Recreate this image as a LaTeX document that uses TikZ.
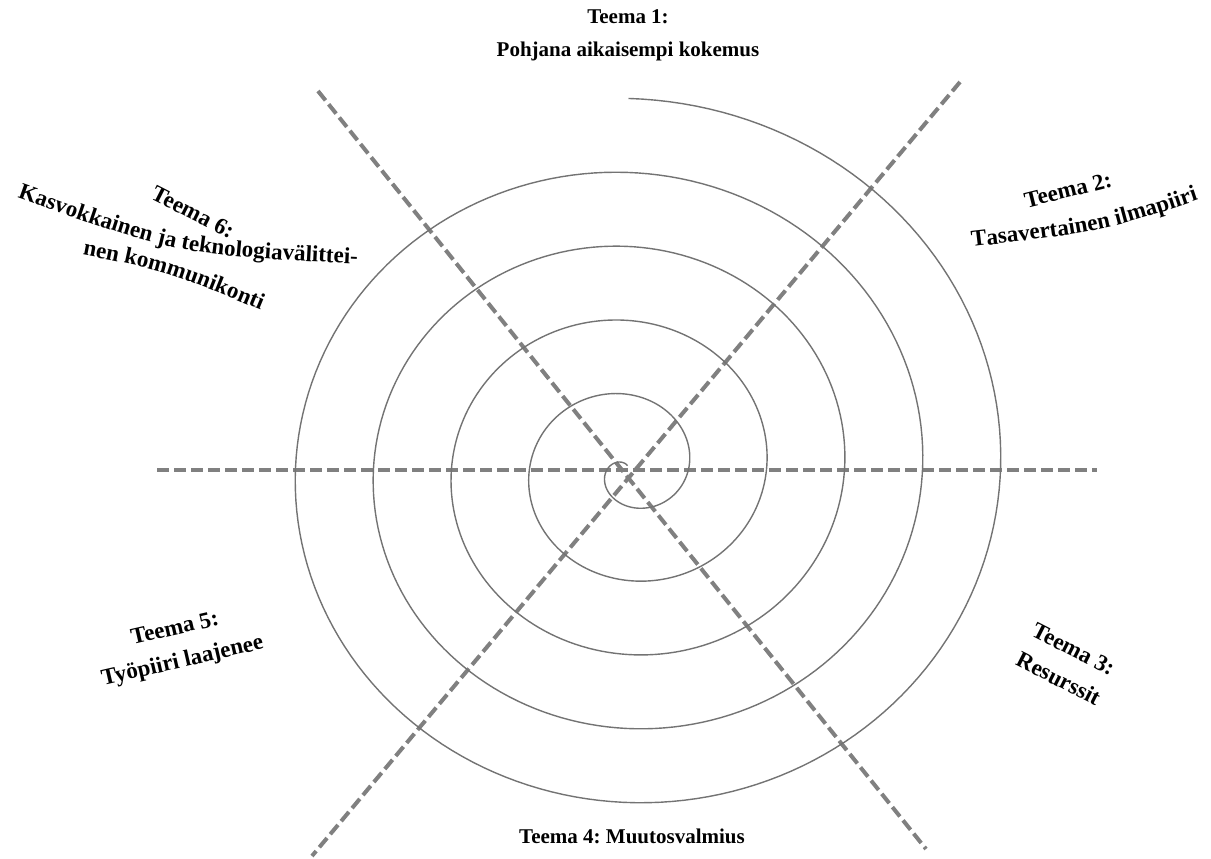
\documentclass[tikz,border=0pt]{standalone}
\usepackage{fontspec}
\setmainfont{Liberation Serif}
\usetikzlibrary{decorations.text}
\frenchspacing
\begin{document}
\begin{tikzpicture}[x=1pt,y=-1pt,
  axisline/.style={draw=axisgray,line width=4pt,dash pattern=on 12pt off 5pt},
  spiralline/.style={draw=spiralgray,line width=1.4pt},
  themelabel/.style={font=\fontsize{21}{33}\selectfont\bfseries,align=center,inner sep=0pt},
  tiltlabel/.style={font=\fontsize{23}{33}\selectfont\bfseries,align=center,inner sep=0pt},
  curvedtext/.style={decorate,decoration={text along path,text align=center,
      text={|\fontsize{23}{23}\selectfont\bfseries|#1}}}]
\definecolor{axisgray}{RGB}{128,128,128}
\definecolor{spiralgray}{RGB}{115,115,115}
\useasboundingbox (0,0) rectangle (1211,859);

% axis end points
\coordinate (hl) at (157,470);
\coordinate (hr) at (1097,470);
\coordinate (nw) at (318,91);
\coordinate (se) at (926,849);
\coordinate (ne) at (960,82);
\coordinate (sw) at (312,856);

\draw[axisline] (hl) -- (hr);
\draw[axisline] (nw) -- (se);
\draw[axisline] (ne) -- (sw);

% elliptical Archimedean spiral, winding clockwise inwards from the top
\draw[spiralline] plot[domain=0:19.85,samples=900,variable=\t]
  ({628.5+19.5*(20.08-\t)*sin(\t*90)},{469-18.5*(20.03-\t)*cos(\t*90)});

% theme labels
\node[themelabel] (t1) at (628,35) {Teema 1:\\Pohjana aikaisempi kokemus};

\node[tiltlabel,rotate=14] (t2a) at (1068,190) {Teema 2:};
\path[curvedtext={Tasavertainen ilmapiiri}] (963,248) .. controls (1105,231) .. (1207,197);

\node[tiltlabel,rotate=-27] (t3) at (1066,664) {Teema 3:\\Resurssit};
\node[themelabel] (t4) at (632,836) {Teema 4: Muutosvalmius};
\node[tiltlabel,rotate=13] (t5) at (179,646) {Teema 5:\\Työpiiri laajenee};

\node[tiltlabel,rotate=-27] (t6a) at (193,212) {Teema 6:};
\path[curvedtext={Kasvokkainen ja teknologiavälittei-}] (13,196) .. controls (178,255) .. (362,264);
\path[curvedtext={nen kommunikonti}] (78,254) .. controls (166,271) .. (265,312);
\end{tikzpicture}
\end{document}
